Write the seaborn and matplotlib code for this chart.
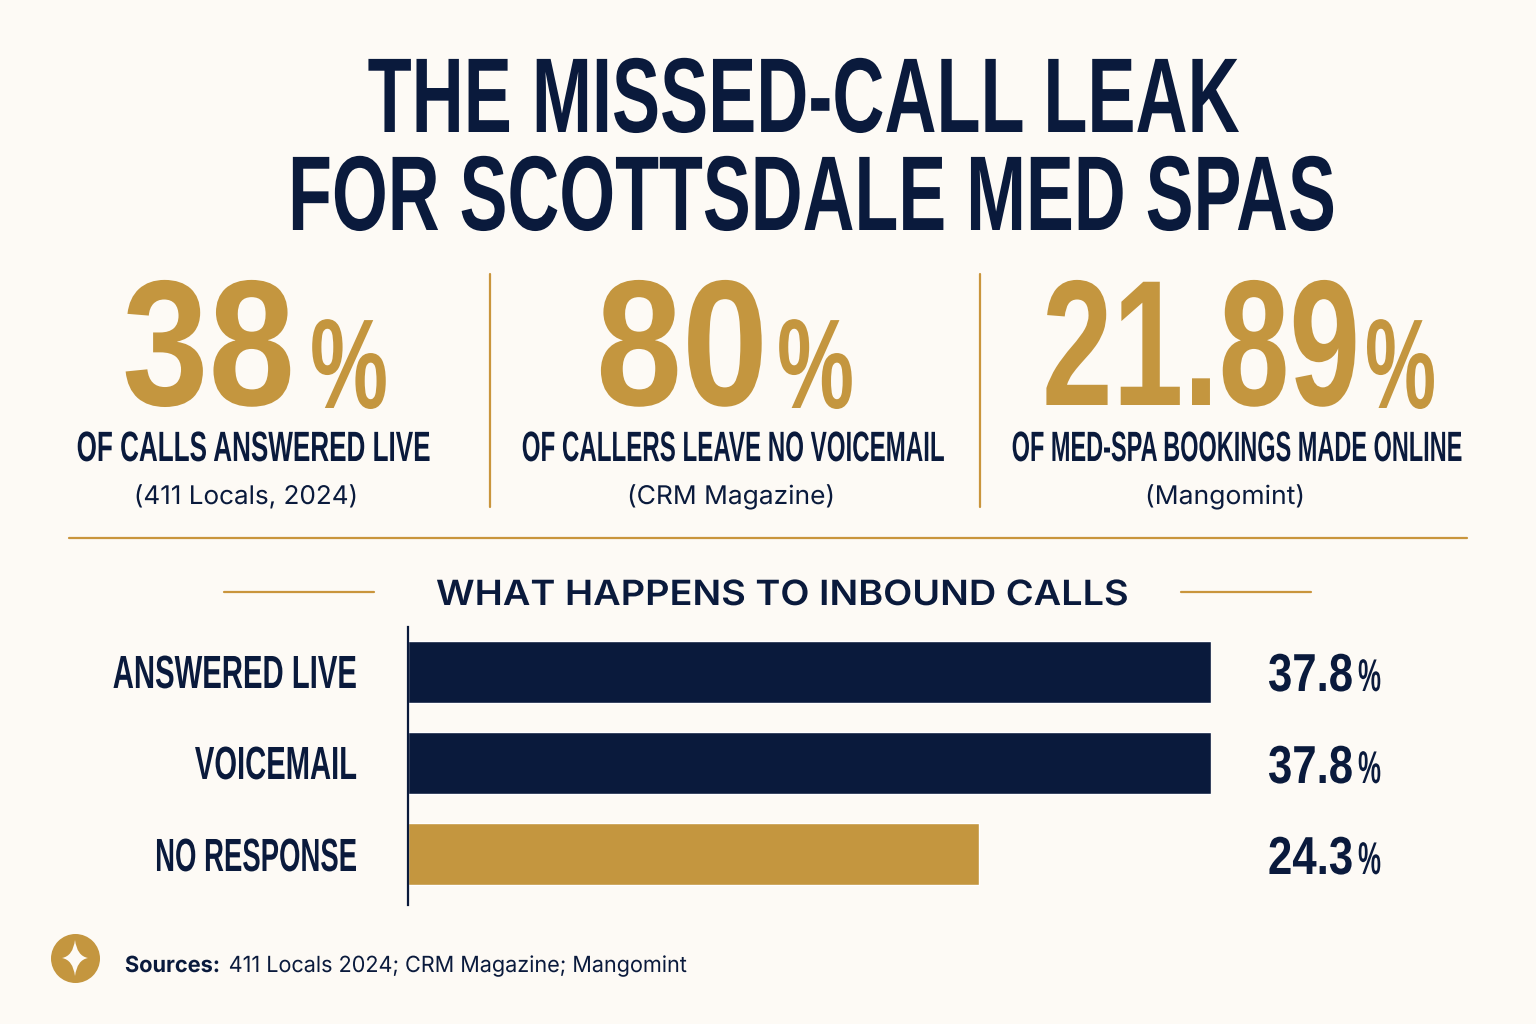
import matplotlib
matplotlib.use('Agg')
import matplotlib.pyplot as plt
from matplotlib.patches import PathPatch
from matplotlib.path import Path
from matplotlib.patheffects import AbstractPathEffect
from matplotlib.transforms import Affine2D
import seaborn as sns
import pandas as pd

NAVY = '#0a1a3c'
GOLD = '#c4963f'
RULE = '#c9953c'
BG = '#fdfaf5'
HEAVY = 'Liberation Sans'
LIGHT = 'Inter'

title_lines = ['THE MISSED-CALL LEAK', 'FOR SCOTTSDALE MED SPAS']
stat_values = ['38', '80', '21.89']
stat_labels = ['OF CALLS ANSWERED LIVE', 'OF CALLERS LEAVE NO VOICEMAIL', 'OF MED-SPA BOOKINGS MADE ONLINE']
stat_sources = ['(411 Locals, 2024)', '(CRM Magazine)', '(Mangomint)']
categories = ['ANSWERED LIVE', 'VOICEMAIL', 'NO RESPONSE']
# bar lengths as drawn, the third bar is longer than its label says
bar_lengths = [37.8, 37.8, 26.9]
bar_labels = ['37.8', '37.8', '24.3']


class Tall(AbstractPathEffect):
    # no condensed font is installed, so draw a smaller font stretched upward
    def __init__(self, sy, pivot, dy=0):
        self.sy = sy
        self.pivot = pivot
        self.dy = dy

    def draw_path(self, renderer, gc, tpath, affine, rgbFace=None):
        stretched = affine + Affine2D().translate(0, -self.pivot).scale(1, self.sy).translate(0, self.pivot + self.dy)
        renderer.draw_path(gc, tpath, stretched, rgbFace)


def fit_width(t, width, pivot, dy=0):
    # size the text to the wanted width, then stretch it back to its cap height
    natural = t.get_window_extent(fig.canvas.get_renderer())
    ratio = width / natural.width
    t.set_fontsize(t.get_fontsize() * ratio)
    t.set_path_effects([Tall(1 / ratio, pivot, dy)])


def put(x0, x1, base, s, size, color=NAVY, family=HEAVY, weight='bold'):
    # x0, x1 are the pixel edges of the text, base is its baseline
    t = bg.text((x0 + x1) / 2, base, s, fontsize=size, color=color, ha='center', va='baseline',
                family=family, weight=weight)
    fit_width(t, x1 - x0, 1024 - base)
    return t


sns.set_theme(style='white')
plt.rcParams['font.family'] = ['Inter', 'DejaVu Sans']

fig = plt.figure(figsize=(15.36, 10.24), dpi=100, facecolor=BG)
# overlay in pixel coordinates for the text and rules
bg = fig.add_axes([0, 0, 1, 1])
bg.set_xlim(0, 1536)
bg.set_ylim(1024, 0)
bg.axis('off')

put(368, 1240, 132, title_lines[0], 76.5)
put(287, 1335, 230, title_lines[1], 76.5)

value_edges = [(122, 295), (596, 768), (1042, 1360)]
pct_edges = [(310, 388), (777, 854), (1365, 1436)]
label_edges = [(77, 431), (522, 945), (1012, 1463)]
source_edges = [(134, 358), (627, 835), (1145, 1305)]
for i in range(3):
    put(*value_edges[i], 405, stat_values[i], 129, color=GOLD)
    put(*pct_edges[i], 408, '%', 92, color=GOLD)
    put(*label_edges[i], 461, stat_labels[i], 30.5)
    put(*source_edges[i], 504, stat_sources[i], 18.5, family=LIGHT, weight='normal')

for x in (490, 980):
    bg.plot([x, x], [274, 507], color=RULE, lw=1.6)
bg.plot([69, 1467], [538, 538], color=RULE, lw=1.6)
bg.plot([224, 374], [592, 592], color=RULE, lw=1.6)
bg.plot([1181, 1311], [592, 592], color=RULE, lw=1.6)
put(436, 1127, 605, 'WHAT HAPPENS TO INBOUND CALLS', 25, family=LIGHT, weight='semibold')

# bar chart
ax = fig.add_axes([408 / 1536, 1 - 905 / 1024, (1211 - 408) / 1536, (905 - 627) / 1024])
ax.patch.set_alpha(0)
df = pd.DataFrame({'category': categories, 'length': bar_lengths})
sns.barplot(data=df, y='category', x='length', hue='category', palette=[NAVY, NAVY, GOLD],
            width=0.676, legend=False, saturation=1, ax=ax)
ax.set_xlim(0, 37.8)
ax.set_ylim(2.56, -0.495)
ax.set_xlabel('')
ax.set_ylabel('')
ax.set_xticks([])
ax.set_yticks(range(3))
ax.set_yticklabels(categories, fontsize=33.5, color=NAVY, family=HEAVY, weight='bold', va='baseline')
ax.tick_params(axis='y', length=0, pad=51 * 0.72)
sns.despine(ax=ax, top=True, right=True, bottom=True)
ax.spines['left'].set_color(NAVY)
ax.spines['left'].set_linewidth(1.6)

tick_widths = [244, 162, 202]
tick_bases = [688, 779, 871]
for i, lab in enumerate(ax.get_yticklabels()):
    tick_y = ax.transData.transform((0, i))[1]
    fit_width(lab, tick_widths[i], tick_y, (1024 - tick_bases[i]) - tick_y)

value_bases = [691, 783, 874]
for i, lab in enumerate(bar_labels):
    put(1268, 1353, value_bases[i], lab, 38.5)
    put(1358, 1381, value_bases[i], '%', 33)

# footer badge with a four point star
bg.scatter([75], [958], s=1245, color=GOLD, linewidths=0, zorder=3)
star = [(0, -18), (2, -2), (13, 0), (2, 2), (0, 18), (-2, 2), (-13, 0), (-2, -2), (0, -18), (0, -18)]
codes = [Path.MOVETO] + [Path.CURVE3] * 8 + [Path.CLOSEPOLY]
bg.add_patch(PathPatch(Path([(75 + a, 958 + b) for a, b in star], codes), facecolor=BG, edgecolor='none', zorder=4))
put(125, 220, 972, 'Sources:', 16, family=LIGHT, weight='bold')
put(228, 687, 972, '411 Locals 2024; CRM Magazine; Mangomint', 16, family=LIGHT, weight='normal')

fig.savefig('out.png', dpi=100, facecolor=BG)
